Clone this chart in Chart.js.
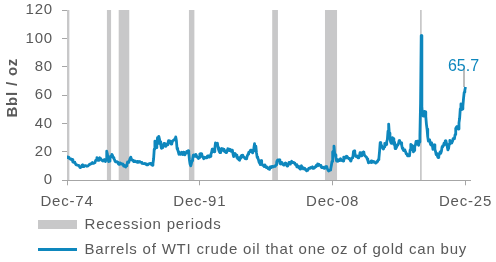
<!DOCTYPE html>
<html>
<head>
<meta charset="utf-8">
<script src="https://cdn.jsdelivr.net/npm/chart.js@4.4.1/dist/chart.umd.min.js"></script>
<style>
  html, body { margin: 0; padding: 0; background: #fff; }
  #chart { display: block; }
</style>
</head>
<body>
<canvas id="chart" width="496" height="262"></canvas>
<script>
// x = months since Dec-74
var tickMonths = [0, 204, 408, 612];
var tickLabels = ['Dec-74', 'Dec-91', 'Dec-08', 'Dec-25'];

// US recessions, in months since Dec-74
var recessionStart = [-13, 61, 79, 187, 315, 396, 542];
var recessionEnd   = [3, 67, 95, 195, 323, 414, 544];

// barrels of WTI per oz of gold, monthly, Dec-74 .. Dec-25
var ratio = [
  16.5,
  16.0, 16.2, 15.9, 15.2, 15.0, 14.7, 14.8, 14.6, 12.9, 12.7, 12.8, 12.5, // 1975
  11.7, 10.9, 11.0, 10.6, 10.5, 10.4, 9.8, 9.0, 9.2, 9.6, 10.6, 10.9,     // 1976
  9.6, 9.7, 10.4, 10.4, 10.3, 9.9, 10.0, 10.2, 10.5, 11.1, 11.4, 11.3,    // 1977
  11.7, 12.1, 12.5, 11.9, 12.0, 12.4, 12.8, 14.0, 14.5, 16.0, 14.2, 14.0, // 1978
  15.3, 15.9, 15.3, 15.0, 14.2, 14.0, 13.6, 13.9, 14.5, 14.0, 13.2, 14.4, // 1979
  20.5, 18.5, 15.0, 13.2, 13.5, 15.5, 17.0, 16.5, 18.2, 17.3, 16.0, 15.3, // 1980
  14.5, 13.2, 13.0, 13.2, 12.8, 12.6, 11.4, 11.3, 12.3, 12.1, 11.6, 11.4, // 1981
  11.4, 11.2, 10.0, 10.4, 9.8, 9.4, 10.1, 10.8, 12.9, 12.6, 12.8, 14.2,   // 1982
  15.6, 16.4, 14.5, 14.2, 14.1, 13.3, 13.6, 13.2, 13.1, 13.2, 12.9, 13.2, // 1983
  12.6, 13.1, 13.2, 12.8, 12.8, 12.7, 12.0, 11.9, 11.8, 11.7, 11.9, 11.6, // 1984
  11.8, 11.0, 10.8, 11.3, 11.5, 11.7, 11.6, 11.9, 11.4, 11.0, 10.6, 11.8, // 1985
  15.0, 22.0, 27.5, 26.6, 23.0, 26.0, 30.0, 26.0, 31.0, 29.0, 27.0, 25.0, // 1986
  22.5, 23.5, 23.0, 25.0, 26.0, 25.0, 24.0, 25.0, 25.5, 25.0, 26.0, 28.0, // 1987
  27.5, 26.5, 27.5, 25.5, 26.0, 27.5, 28.0, 28.0, 28.5, 29.5, 30.5, 28.0, // 1988
  22.4, 21.5, 20.0, 18.3, 18.5, 18.3, 19.1, 19.7, 18.5, 18.2, 19.9, 19.4, // 1989
  17.9, 18.8, 19.3, 20.3, 20.3, 20.8, 19.5, 14.5, 11.5, 10.2, 11.8, 13.8, // 1990
  15.2, 17.8, 17.9, 17.2, 16.8, 18.2, 17.2, 16.4, 15.9, 15.4, 16.0, 18.5, // 1991
  18.8, 18.6, 18.3, 16.7, 16.1, 15.2, 16.2, 16.0, 15.8, 15.9, 16.5, 17.2, // 1992
  17.2, 16.4, 16.3, 16.8, 18.4, 19.5, 21.9, 21.0, 20.3, 20.1, 22.3, 26.4, // 1993
  25.8, 25.8, 26.1, 23.0, 21.3, 20.2, 19.5, 20.7, 22.3, 22.0, 21.2, 22.0, // 1994
  21.0, 20.2, 20.6, 19.6, 19.5, 21.0, 22.3, 21.3, 21.0, 22.0, 21.4, 20.4, // 1995
  21.2, 21.2, 18.5, 16.7, 18.5, 18.9, 18.0, 17.7, 16.0, 15.3, 15.9, 14.5, // 1996
  14.1, 15.6, 16.8, 17.5, 16.5, 17.7, 16.4, 16.3, 16.3, 15.2, 15.1, 15.8, // 1997
  17.3, 18.4, 19.7, 20.0, 20.1, 21.3, 20.8, 21.2, 19.3, 20.6, 22.8, 25.8, // 1998
  23.0, 24.0, 19.5, 16.3, 15.6, 14.6, 12.7, 12.1, 11.1, 13.8, 11.7, 10.8, // 1999
  10.4, 10.2, 9.6, 10.9, 9.5, 9.0, 9.5, 8.8, 8.1, 8.2, 7.7, 9.5,         // 2000
  9.0, 8.9, 9.7, 9.5, 9.5, 9.8, 10.1, 9.9, 10.9, 12.7, 14.1, 14.3,       // 2001
  14.3, 14.3, 12.0, 11.5, 11.6, 12.6, 11.6, 10.9, 10.7, 11.0, 12.1, 11.3, // 2002
  10.9, 10.0, 10.1, 11.6, 12.6, 11.6, 11.4, 11.4, 13.4, 12.5, 12.5, 12.6, // 2003
  12.1, 11.7, 11.0, 11.0, 9.5, 10.3, 9.8, 8.9, 8.8, 7.9, 9.1, 10.2,      // 2004
  9.1, 8.8, 8.0, 8.1, 8.5, 7.6, 7.2, 6.7, 7.0, 7.5, 8.2, 8.6,            // 2005
  8.4, 9.0, 8.9, 8.8, 9.5, 8.4, 8.5, 8.7, 9.4, 9.9, 10.6, 10.1,          // 2006
  11.6, 11.2, 10.8, 10.6, 10.5, 9.7, 9.0, 9.2, 8.9, 8.8, 8.5, 8.8,       // 2007
  9.6, 9.7, 9.2, 8.1, 7.1, 6.6, 7.0, 7.2, 8.0, 10.5, 13.3, 19.9,         // 2008
  20.6, 24.1, 19.3, 17.9, 15.7, 13.6, 14.5, 13.4, 14.3, 13.8, 14.4, 15.2, // 2009
  14.3, 14.3, 13.7, 13.6, 16.4, 16.4, 15.6, 15.9, 16.9, 16.4, 16.3, 15.6, // 2010
  15.2, 15.4, 14.1, 13.5, 15.1, 15.9, 16.2, 20.4, 20.7, 19.3, 17.4, 16.8, // 2011
  16.5, 17.1, 15.8, 16.0, 16.7, 19.4, 18.1, 17.3, 18.5, 19.5, 19.9, 19.2, // 2012
  17.6, 17.1, 17.1, 16.2, 15.0, 14.0, 12.3, 12.6, 12.7, 13.1, 13.6, 12.5, // 2013
  13.2, 12.9, 13.3, 12.7, 12.6, 12.1, 12.7, 13.4, 13.3, 14.5, 15.5, 20.3, // 2014
  26.5, 24.4, 24.7, 23.5, 22.5, 22.0, 23.5, 26.0, 24.7, 25.2, 27.0, 28.7, // 2015
  34.6, 39.6, 33.2, 30.4, 27.0, 26.1, 29.9, 30.0, 29.3, 25.4, 27.0, 22.3, // 2016
  22.7, 23.1, 25.0, 24.8, 25.7, 27.9, 26.5, 26.7, 26.4, 24.8, 22.6, 21.8, // 2017
  20.9, 21.4, 21.0, 20.1, 18.6, 18.5, 17.3, 17.4, 17.2, 17.2, 21.4, 25.3, // 2018
  25.0, 24.2, 22.7, 20.1, 21.0, 24.2, 24.6, 27.4, 26.5, 27.5, 25.4, 24.7, // 2019
  27.0, 31.6, 54.5, 102.0, 52.0, 46.0, 45.2, 46.4, 48.5, 48.2, 45.1, 39.6, // 2020
  36.0, 30.6, 27.6, 28.5, 28.4, 25.7, 24.9, 26.4, 24.8, 21.8, 23.0, 25.0, // 2021
  21.8, 20.3, 18.0, 19.0, 16.9, 16.0, 17.1, 18.8, 19.9, 19.1, 20.4, 23.5, // 2022
  24.3, 24.2, 26.1, 25.2, 27.8, 27.6, 25.7, 23.6, 21.4, 22.4, 25.5, 28.2, // 2023
  27.4, 26.2, 26.6, 27.3, 29.4, 29.1, 29.3, 32.2, 36.6, 37.4, 37.9, 37.8, // 2024
  36.1, 40.5, 43.7, 50.3, 53.8, 49.8, 50.2, 52.3, 57.7, 62.0, 63.5, 65.7  // 2025
];

var blue = '#0e87bd';
var grey = '#c8c8c9';
var textColor = '#595959';
var axisColor = '#a6a6a6';

Chart.defaults.font.family = '"Liberation Sans", Arial, sans-serif';
Chart.defaults.font.size = 15;
Chart.defaults.color = textColor;

var lineData = ratio.map(function(v, i) { return {x: i, y: v}; });

var recData = [];
recessionStart.forEach(function(s, i) {
	recData.push({x: s, y: 120});
	recData.push({x: recessionEnd[i] + 1, y: 120});
	recData.push({x: recessionEnd[i] + 1, y: null});
});

// letter spacing + legend placement
var tweaks = {
	id: 'tweaks',
	beforeUpdate: function(chart) { chart.ctx.letterSpacing = '0.8px'; },
	beforeDraw: function(chart) { chart.ctx.letterSpacing = '0.8px'; },
	afterLayout: function(chart) {
		chart.legend.left = 28;
		chart.legend.top = 207;
	}
};

// "65.7" label on the last point
var endLabel = {
	id: 'endLabel',
	beforeDatasetsDraw: function(chart) {
		var pt = chart.getDatasetMeta(0).data[ratio.length - 1];
		var ctx = chart.ctx;
		ctx.save();
		ctx.strokeStyle = '#bdbdbd';
		ctx.lineWidth = 2;
		ctx.beginPath();
		ctx.moveTo(pt.x - 1.5, pt.y - 19);
		ctx.lineTo(pt.x - 1.5, pt.y);
		ctx.stroke();
		ctx.restore();
	},
	afterDatasetsDraw: function(chart) {
		var pt = chart.getDatasetMeta(0).data[ratio.length - 1];
		var ctx = chart.ctx;
		ctx.save();
		ctx.letterSpacing = '0px';
		ctx.font = '16px "Liberation Sans", Arial, sans-serif';
		ctx.fillStyle = blue;
		ctx.textAlign = 'center';
		ctx.textBaseline = 'alphabetic';
		ctx.fillText(ratio[ratio.length - 1].toFixed(1), pt.x - 2, pt.y - 16);
		ctx.restore();
	}
};

var ctx = document.getElementById('chart').getContext('2d');
var myChart = new Chart(ctx, {
	type: 'line',
	data: {
		datasets: [{
			label: 'Barrels of WTI crude oil that one oz of gold can buy',
			data: lineData,
			borderColor: blue,
			borderWidth: 2.8,
			borderJoinStyle: 'round',
			pointRadius: 0,
			tension: 0,
			fill: false
		}, {
			label: 'Recession periods',
			data: recData,
			borderWidth: 0,
			borderColor: grey,
			backgroundColor: grey,
			pointRadius: 0,
			spanGaps: false,
			fill: 'origin'
		}]
	},
	options: {
		responsive: false,
		devicePixelRatio: 1,
		animation: false,
		layout: { padding: { top: 10, right: 25.3, bottom: 0, left: 0 } },
		plugins: {
			tooltip: { enabled: false },
			legend: {
				position: 'bottom',
				align: 'start',
				maxHeight: 43.7,
				labels: {
					usePointStyle: true,
					pointStyleWidth: 39,
					boxHeight: 9,
					padding: 10,
					color: textColor,
					font: { size: 15 },
					generateLabels: function(chart) {
						return [{
							text: 'Recession periods',
							fillStyle: grey,
							strokeStyle: grey,
							lineWidth: 0,
							pointStyle: 'rect',
							datasetIndex: 1,
							fontColor: textColor
						}, {
							text: 'Barrels of WTI crude oil that one oz of gold can buy',
							fillStyle: blue,
							strokeStyle: blue,
							lineWidth: 3,
							pointStyle: 'line',
							datasetIndex: 0,
							fontColor: textColor
						}];
					}
				}
			}
		},
		scales: {
			x: {
				type: 'linear',
				min: 0,
				max: 620,
				afterBuildTicks: function(scale) {
					scale.ticks = tickMonths.map(function(m) { return {value: m}; });
				},
				afterFit: function(scale) {
					scale.paddingLeft = 0;
					scale.paddingRight = 0;
				},
				ticks: {
					autoSkip: false,
					maxRotation: 0,
					padding: 7.5,
					color: textColor,
					callback: function(value) {
						return tickLabels[tickMonths.indexOf(value)];
					}
				},
				grid: { drawOnChartArea: false, tickLength: 5, color: axisColor },
				border: { display: true, color: axisColor }
			},
			y: {
				min: 0,
				max: 120,
				afterFit: function(scale) {
					scale.width = 67;
					scale.paddingTop = 0;
					scale.paddingBottom = 0;
				},
				ticks: { stepSize: 20, padding: 9, color: textColor },
				grid: { drawOnChartArea: false, tickLength: 5, color: axisColor },
				border: { display: true, color: axisColor },
				title: {
					display: true,
					text: '   Bbl / oz',
					color: textColor,
					font: { size: 15, weight: 'bold' }
				}
			}
		}
	},
	plugins: [tweaks, endLabel]
});
</script>
</body>
</html>
